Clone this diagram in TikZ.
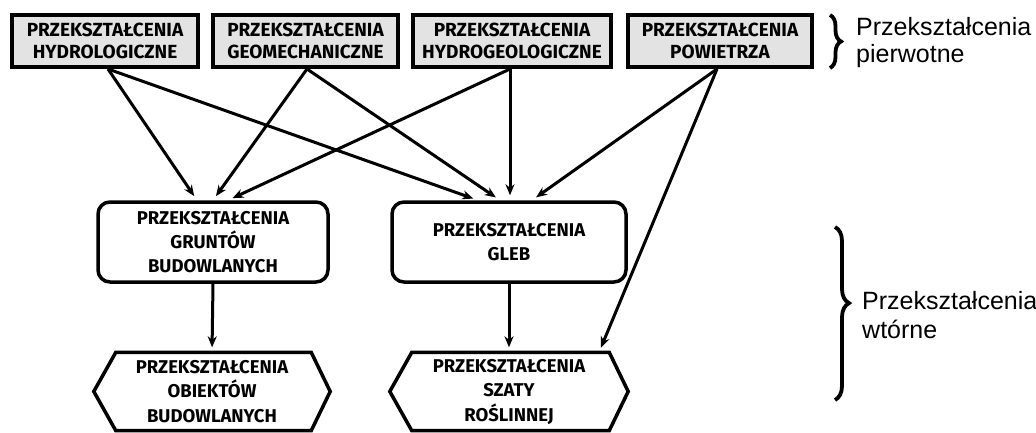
\documentclass[tikz,border=0pt]{standalone}
\usepackage{fontspec}
\setmainfont{Liberation Sans}
\newfontfamily\boxfont{Fira Sans}
\usetikzlibrary{arrows.meta,decorations.pathreplacing,calc}
\begin{document}
\begin{tikzpicture}[x=1pt,y=-1pt,
  lbl/.style={font=\boxfont\bfseries\fontsize{19}{21.5}\selectfont, align=center, inner sep=0pt},
  prim/.style={lbl, draw, line width=4pt, fill=gray!22, minimum width=#1, minimum height=52pt},
  sec/.style={lbl, draw, line width=3.5pt, rounded corners=12pt, minimum width=#1, minimum height=80pt, font=\boxfont\bfseries\fontsize{18.5}{24}\selectfont},
  hexa/.style={lbl, minimum width=#1, minimum height=78pt, font=\boxfont\bfseries\fontsize{18.5}{24.5}\selectfont},
  arr/.style={line width=3pt, -{Stealth[length=11pt,width=9pt]}, shorten >=5pt},
  side/.style={font=\fontsize{25}{28}\selectfont, anchor=base west, inner sep=0pt},
  brc/.style={decorate, line width=3.8pt}
]
\fill[white] (0,0) rectangle (1036,433);
\useasboundingbox (0,0) rectangle (1036,433);

% primary transformations
\node[prim=186pt] (h1) at (105,41) {PRZEKSZTAŁCENIA\\HYDROLOGICZNE};
\node[prim=185pt] (h2) at (305.5,41) {PRZEKSZTAŁCENIA\\GEOMECHANICZNE};
\node[prim=198pt] (h3) at (512,41) {PRZEKSZTAŁCENIA\\HYDROGEOLOGICZNE};
\node[prim=184pt] (h4) at (720,41) {PRZEKSZTAŁCENIA\\POWIETRZA};

% secondary transformations
\node[sec=230pt] (gr) at (213,242) {PRZEKSZTAŁCENIA\\GRUNTÓW\\BUDOWLANYCH};
\node[sec=234pt] (gl) at (509,242) {PRZEKSZTAŁCENIA\\GLEB};

\node[hexa=236pt] (ob) at (212,391.5) {PRZEKSZTAŁCENIA\\OBIEKTÓW\\BUDOWLANYCH};
\node[hexa=238pt] (sz) at (509,391.5) {PRZEKSZTAŁCENIA\\SZATY\\ROŚLINNEJ};
\foreach \n in {ob,sz}{
  \draw[line width=3.5pt, line join=miter]
    (\n.west) -- ([xshift=22pt]\n.north west) -- ([xshift=-19pt]\n.north east)
    -- (\n.east) -- ([xshift=-19pt]\n.south east) -- ([xshift=22pt]\n.south west) -- cycle;
}

% connectors
\draw[arr] ([xshift=3pt]h1.south) -- ([xshift=-16pt]gr.north);
\draw[arr] ([xshift=3pt]h1.south) -- ([xshift=-31pt]gl.north);
\draw[arr] ([xshift=1.5pt]h2.south) -- (gr.north);
\draw[arr] ([xshift=1.5pt]h2.south) -- ([xshift=-9pt]gl.north);
\draw[arr] ([xshift=-2pt]h3.south) -- ([xshift=15pt]gr.north);
\draw[arr] ([xshift=-2pt]h3.south) -- ([xshift=1pt]gl.north);
\draw[arr] ([xshift=-3pt]h4.south) -- ([xshift=23pt]gl.north);
\draw[arr] ([xshift=-3pt]h4.south) -- ([xshift=90pt]sz.north);
\draw[arr] (gr.south) -- (ob.north);
\draw[arr] (gl.south) -- (sz.north);

% braces and side labels
\coordinate (b1a) at (830,15);
\coordinate (b1b) at (830,68);
\draw[brc, decoration={brace, amplitude=11pt}] (b1a) -- (b1b);
\node[side] (p1) at (856,36) {Przekształcenia};
\node[side] (p2) at (856,63) {pierwotne};

\coordinate (b2a) at (835,227);
\coordinate (b2b) at (835,400);
\draw[brc, decoration={brace, amplitude=14pt, aspect=0.44}] (b2a) -- (b2b);
\node[side] (w1) at (862,309) {Przekształcenia};
\node[side] (w2) at (862,338) {wtórne};
\end{tikzpicture}
\end{document}
